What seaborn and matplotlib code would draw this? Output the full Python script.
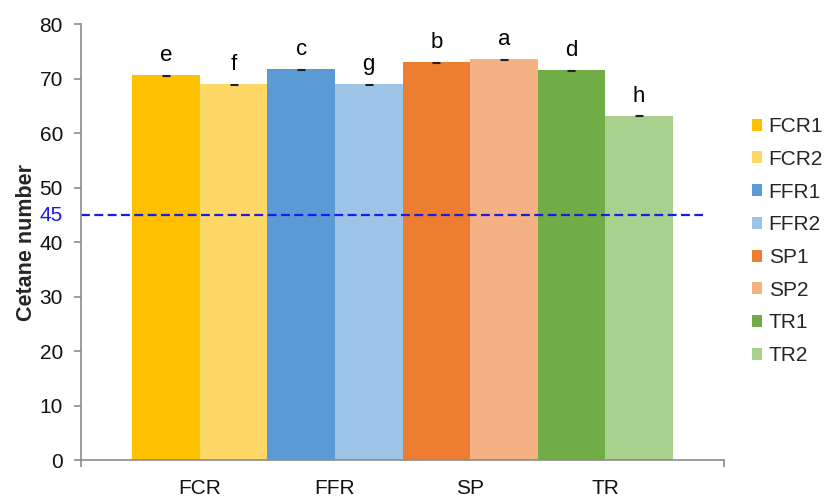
import matplotlib
matplotlib.use("Agg")
import matplotlib.pyplot as plt
from matplotlib.patches import Patch
import seaborn as sns
import pandas as pd
import numpy as np

# Data
groups = ["FCR", "FFR", "SP", "TR"]
samples = ["FCR1", "FCR2", "FFR1", "FFR2", "SP1", "SP2", "TR1", "TR2"]
sample_group = ["FCR", "FCR", "FFR", "FFR", "SP", "SP", "TR", "TR"]
cetane = [70.7, 69.0, 71.8, 69.0, 73.1, 73.6, 71.6, 63.2]
errors = [0.1, 0.1, 0.1, 0.1, 0.1, 0.1, 0.1, 0.1]
letters = ["e", "f", "c", "g", "b", "a", "d", "h"]
colors = ["#FFC000", "#FDD866", "#5B9BD5", "#9DC3E6",
          "#ED7D31", "#F4B183", "#70AD47", "#A9D18E"]
yticks = [0, 10, 20, 30, 40, 50, 60, 70, 80]
limit_value = 45

sns.set_style("white")
plt.rcParams["font.family"] = ["Liberation Sans", "DejaVu Sans"]

df = pd.DataFrame({"sample": samples, "group": sample_group, "value": cetane})

fig = plt.figure(figsize=(8.24, 4.97), dpi=100)
ax = fig.add_axes([81 / 824, 37 / 497, 643 / 824, 435.5 / 497])

sns.barplot(data=df, x="sample", y="value", hue="sample", palette=colors,
            saturation=1, width=1.0, dodge=False, legend=False,
            errorbar=None, linewidth=0, ax=ax)

xpos = np.arange(len(samples))
ax.errorbar(xpos, cetane, yerr=errors, fmt="none", ecolor="#222222",
            elinewidth=0.8, capsize=3, capthick=0.8)
for x, v, e, t in zip(xpos, cetane, errors, letters):
    ax.text(x, v + e + 1.6, t, ha="center", va="bottom", fontsize=16,
            color="black")

ax.set_xlim(-1.26, 8.26)
ax.set_ylim(0, 80)

# Reference limit line
ax.axhline(limit_value, xmin=0, xmax=0.967, color="#1A1AF0",
           linestyle=(0, (4, 2)), linewidth=1.6)
ax.text(-18 / 643, limit_value, str(limit_value), transform=ax.get_yaxis_transform(),
        ha="right", va="center", fontsize=15, color="#1A1AF0")

# Axes styling
gray = "#8C8C8C"
for side in ["top", "right"]:
    ax.spines[side].set_visible(False)
for side in ["left", "bottom"]:
    ax.spines[side].set_color(gray)
    ax.spines[side].set_linewidth(1.2)

ax.set_yticks(yticks)
ax.tick_params(axis="y", which="major", direction="out", length=5,
               width=1.2, color=gray, left=True, labelsize=15, pad=8,
               labelcolor="#111111")

group_centers = [np.mean([i for i, g in enumerate(sample_group) if g == grp])
                 for grp in groups]
ax.set_xticks(group_centers)
ax.set_xticklabels(groups)
ax.tick_params(axis="x", which="major", length=0, labelsize=15, pad=14,
               labelcolor="#111111")
ax.set_xticks([-1.26, 8.26], minor=True)
ax.tick_params(axis="x", which="minor", direction="out", length=5,
               width=1.2, color=gray, bottom=True)

ax.set_xlabel("")
ax.set_ylabel("Cetane number", fontsize=15.5, fontweight="bold", labelpad=2)

handles = [Patch(facecolor=c, edgecolor="none", label=s)
           for s, c in zip(samples, colors)]
fig.legend(handles=handles, loc="upper left", bbox_to_anchor=(752 / 824, 1 - 117 / 497),
           frameon=False, fontsize=15, handlelength=0.5, handleheight=0.5,
           handletextpad=0.3, labelspacing=0.66, borderpad=0, borderaxespad=0)

fig.savefig("out.png", dpi=100)
